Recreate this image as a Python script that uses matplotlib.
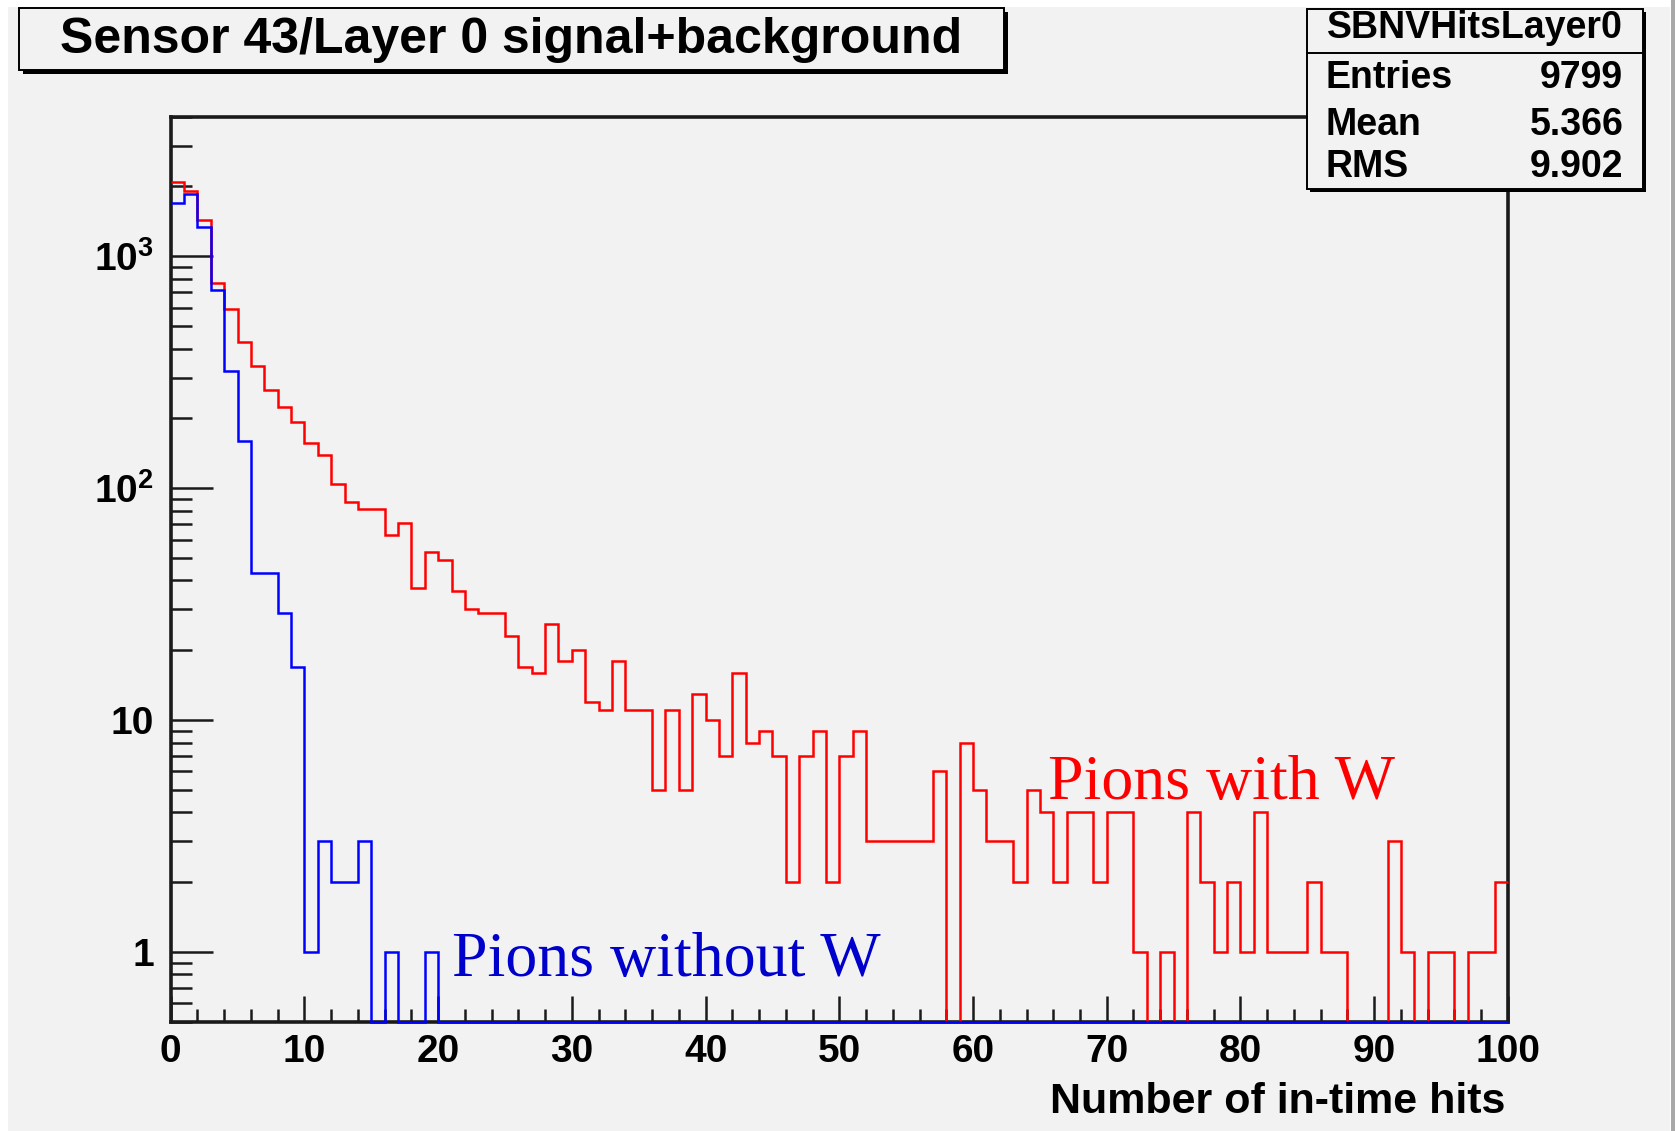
import numpy as np
import matplotlib
matplotlib.use('Agg')
import matplotlib.pyplot as plt
from matplotlib.patches import Rectangle
from matplotlib.lines import Line2D
from matplotlib.ticker import FixedLocator, MultipleLocator, LogLocator, FixedFormatter, NullFormatter

# ---------------- data ----------------
title = 'Sensor 43/Layer 0 signal+background'
stats_name = 'SBNVHitsLayer0'
stats_labels = ['Entries', 'Mean', 'RMS']
stats_values = ['9799', '5.366', '9.902']
xlabel = 'Number of in-time hits'
label_with = 'Pions with W'
label_without = 'Pions without W'

bin_edges = np.arange(0, 101, 1)

counts_with_W = np.array([
    2100, 1920, 1440, 770, 590, 425, 335, 265, 225, 193,
    157, 139, 104, 87, 81, 81, 63, 71, 37, 53,
    49, 36, 30, 29, 29, 23, 17, 16, 26, 18,
    20, 12, 11, 18, 11, 11, 5, 11, 5, 13,
    10, 7, 16, 8, 9, 7, 2, 7, 9, 2,
    7, 9, 3, 3, 3, 3, 3, 6, 0, 8,
    5, 3, 3, 2, 5, 4, 2, 4, 4, 2,
    4, 4, 1, 0, 1, 0, 4, 2, 1, 2,
    1, 4, 1, 1, 1, 2, 1, 1, 0, 0,
    0, 3, 1, 0, 1, 1, 0, 1, 1, 2])

counts_without_W = np.array([
    1700, 1860, 1340, 718, 319, 160, 43, 43, 29, 17,
    1, 3, 2, 2, 3, 0, 1, 0, 0, 1] + [0] * 80)

x_ticks = list(range(0, 101, 10))
y_ticks = [1, 10, 100, 1000]
y_tick_labels = ['1', '10', r'$\mathbf{10^{2}}$', r'$\mathbf{10^{3}}$']
y_limits = (0.5, 4000)
x_limits = (0, 100)

# ---------------- style ----------------
W, H = 1675, 1131
BG = '#f2f2f2'
SANS = 'Liberation Sans'
SERIF = 'Liberation Serif'
plt.rcParams['font.family'] = [SANS, 'DejaVu Sans']
plt.rcParams['mathtext.fontset'] = 'custom'
plt.rcParams['mathtext.bf'] = 'Liberation Sans:bold'
plt.rcParams['mathtext.rm'] = 'Liberation Sans:bold'


def fx(px):
    return px / W


def fy(py):
    return 1 - py / H


def frect(x0, y0, x1, y1, **kw):
    return Rectangle((fx(x0), fy(y1)), (x1 - x0) / W, (y1 - y0) / H,
                     transform=fig.transFigure, **kw)


fig = plt.figure(figsize=(W / 100, H / 100), dpi=100)
fig.patch.set_facecolor('white')
fig.add_artist(frect(8, 7, 1670, 1131, facecolor=BG, edgecolor='none', zorder=-10))
fig.add_artist(frect(1670.5, 0, 1675, 1131, facecolor='#a8a8a8', edgecolor='none', zorder=-9))

ax_left, ax_right, ax_top, ax_bottom = 170.7, 1507.9, 116.7, 1021.7
ax = fig.add_axes([fx(ax_left), fy(ax_bottom), (ax_right - ax_left) / W, (ax_bottom - ax_top) / H])
ax.set_facecolor(BG)

ymin = y_limits[0]
ax.stairs(np.where(counts_with_W > 0, counts_with_W, ymin), bin_edges, baseline=None,
          color='#ff0000', lw=1.8, zorder=3, clip_on=False)
ax.stairs(np.where(counts_without_W > 0, counts_without_W, ymin), bin_edges, baseline=None,
          color='#0000ff', lw=1.8, zorder=3.1, clip_on=False)

ax.set_yscale('log')
ax.set_xlim(*x_limits)
ax.set_ylim(*y_limits)

ax.xaxis.set_major_locator(FixedLocator(x_ticks))
ax.xaxis.set_minor_locator(MultipleLocator(2))
ax.yaxis.set_major_locator(FixedLocator(y_ticks))
ax.yaxis.set_major_formatter(FixedFormatter(y_tick_labels))
ax.yaxis.set_minor_locator(LogLocator(base=10, subs=np.arange(2, 10)))
ax.yaxis.set_minor_formatter(NullFormatter())

TC = '#1a1a1a'
ax.tick_params(axis='x', which='major', direction='in', length=19, width=1.8,
               labelsize=28, pad=9, top=False, color=TC)
ax.tick_params(axis='x', which='minor', direction='in', length=9.5, width=1.8,
               top=False, color=TC)
ax.tick_params(axis='y', which='major', direction='in', length=30, width=1.8,
               labelsize=28, pad=12, right=False, color=TC)
ax.tick_params(axis='y', which='minor', direction='in', length=15, width=1.8,
               right=False, color=TC)
for lab in ax.get_xticklabels() + ax.get_yticklabels():
    lab.set_fontweight('bold')
    lab.set_fontfamily(SANS)

for sp in ax.spines.values():
    sp.set_linewidth(2.6)
    sp.set_color(TC)

ax.set_xlabel(xlabel, fontsize=31, fontweight='bold', ha='right', va='baseline')
ax.xaxis.set_label_coords(0.998, -(1112.7 - ax_bottom) / (ax_bottom - ax_top))

ax.text(21.0, 0.785, label_without, color='#0000cc', fontsize=46, family=SERIF,
        ha='left', va='baseline', zorder=4)
ax.text(65.6, 4.55, label_with, color='#ff0000', fontsize=46, family=SERIF,
        ha='left', va='baseline', zorder=4)

# ---------------- title box ----------------
fig.add_artist(frect(23, 12, 1008, 74, facecolor='black', edgecolor='none', zorder=5))
fig.add_artist(frect(19, 8.3, 1004, 70, facecolor=BG, edgecolor='black', lw=1.4, zorder=6))
fig.text(fx(511.5), fy(53.3), title, fontsize=36, fontweight='bold', ha='center',
         va='baseline', zorder=7)

# ---------------- stats box ----------------
bx0, by0, bx1, by1 = 1307.3, 9.3, 1643.3, 189.3
fig.add_artist(frect(bx0 + 3, by0 + 3, bx1 + 3, by1 + 3, facecolor='black', edgecolor='none', zorder=5))
fig.add_artist(frect(bx0, by0, bx1, by1, facecolor=BG, edgecolor='black', lw=1.4, zorder=6))
fig.add_artist(Line2D([fx(bx0), fx(bx1)], [fy(53.3), fy(53.3)], transform=fig.transFigure,
                      color='black', lw=1.4, zorder=7))
fig.text(fx((bx0 + bx1) / 2), fy(38.3), stats_name, fontsize=27, fontweight='bold',
         ha='center', va='baseline', zorder=7)
for lab, val, base in zip(stats_labels, stats_values, [88.3, 135.0, 177.0]):
    fig.text(fx(1325), fy(base), lab, fontsize=27, fontweight='bold', ha='left',
             va='baseline', zorder=7)
    fig.text(fx(1623.3), fy(base), val, fontsize=27, fontweight='bold', ha='right',
             va='baseline', zorder=7)

fig.savefig('out.png', dpi=100, facecolor=fig.get_facecolor())
